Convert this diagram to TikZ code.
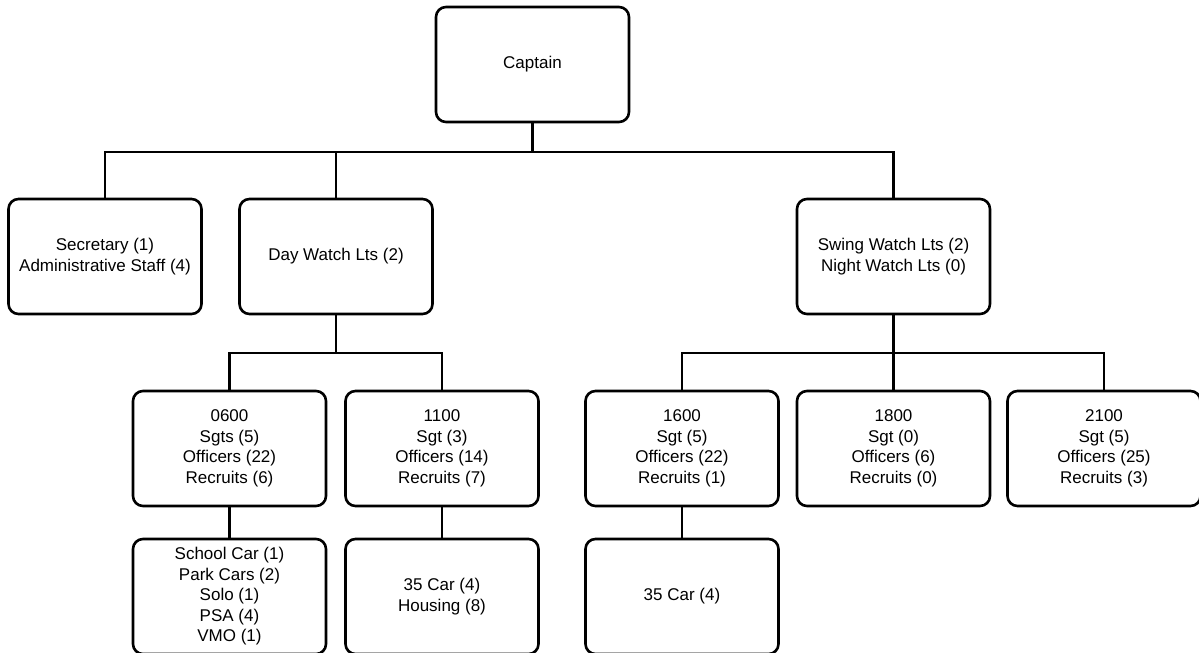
\documentclass[tikz,border=0pt]{standalone}
\usepackage{fontspec}
\setmainfont{Liberation Sans}
\begin{document}
\begin{tikzpicture}[x=1pt,y=-1pt,
  orgbox/.style={draw, line width=2.6pt, rounded corners=10pt, rectangle,
    minimum width=193pt, minimum height=115pt, align=center, inner sep=2pt,
    font=\fontsize{17}{20.5}\selectfont},
  link/.style={line width=2.6pt}]
\useasboundingbox (0,0) rectangle (1199,653);
\node[orgbox] (captain) at (532.5,64.5) {Captain};
\node[orgbox] (sec) at (105,256.5) {Secretary (1)\\Administrative Staff (4)};
\node[orgbox] (day) at (336,256.5) {Day Watch Lts (2)};
\node[orgbox] (swing) at (893.5,256.5) {Swing Watch Lts (2)\\Night Watch Lts (0)};
\node[orgbox] (s0600) at (229.5,448.5) {0600\\Sgts (5)\\Officers (22)\\Recruits (6)};
\node[orgbox] (s1100) at (442,448.5) {1100\\Sgt (3)\\Officers (14)\\Recruits (7)};
\node[orgbox] (s1600) at (682,448.5) {1600\\Sgt (5)\\Officers (22)\\Recruits (1)};
\node[orgbox] (s1800) at (893.5,448.5) {1800\\Sgt (0)\\Officers (6)\\Recruits (0)};
\node[orgbox] (s2100) at (1104,448.5) {2100\\Sgt (5)\\Officers (25)\\Recruits (3)};
\node[orgbox] (c0600) at (229.5,596.5) {School Car (1)\\Park Cars (2)\\Solo (1)\\PSA (4)\\VMO (1)};
\node[orgbox] (c1100) at (442,596.5) {35 Car (4)\\Housing (8)};
\node[orgbox] (c1600) at (682,596.5) {35 Car (4)};
\coordinate (lvA) at (0,152);
\coordinate (lvB) at (0,353);
% level 1
\draw[link] (captain.south) -- (captain.south |- lvA);
\draw[link] (sec.north) |- (swing.north |- lvA) -- (swing.north);
\draw[link] (day.north) -- (day.north |- lvA);
% day watch
\draw[link] (day.south) -- (day.south |- lvB);
\draw[link] (s0600.north) |- (s1100.north |- lvB) -- (s1100.north);
% swing watch
\draw[link] (swing.south) -- (swing.south |- lvB);
\draw[link] (s1600.north) |- (s2100.north |- lvB) -- (s2100.north);
\draw[link] (s1800.north) -- (s1800.north |- lvB);
% level 4
\draw[link] (s0600.south) -- (c0600.north);
\draw[link] (s1100.south) -- (c1100.north);
\draw[link] (s1600.south) -- (c1600.north);
\end{tikzpicture}
\end{document}
